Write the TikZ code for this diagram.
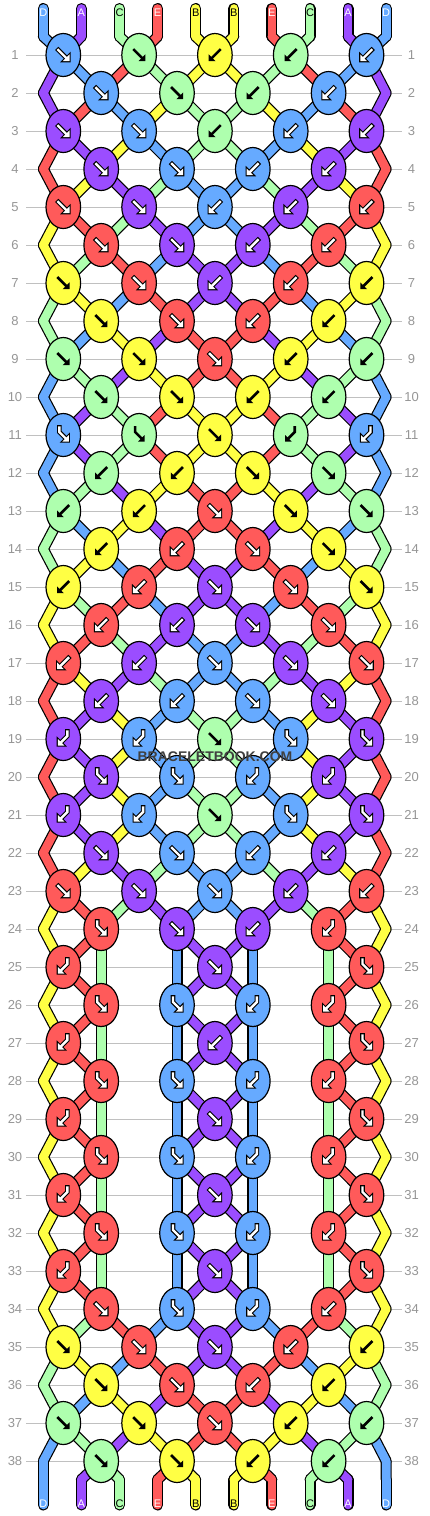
\documentclass[tikz,border=0pt]{standalone}
\usepackage{fontspec}
\setmainfont{Liberation Sans}
\usepackage{xstring}
\usetikzlibrary{shapes.geometric}

% strand colours
\definecolor{strA}{RGB}{155,77,255}
\definecolor{strB}{RGB}{255,255,68}
\definecolor{strC}{RGB}{174,255,174}
\definecolor{strD}{RGB}{102,170,255}
\definecolor{strE}{RGB}{255,90,90}
\definecolor{rowgray}{RGB}{150,150,150}
\definecolor{linegray}{RGB}{192,192,192}

% strand order under each row (row 0 = the loose ends on top)
\newcommand\setrow[2]{\expandafter\def\csname sqrow#1\endcsname{#2}}
% knots of each row: f forward, b backward, F forward-backward, B backward-forward, 0 none
\newcommand\setknots[2]{\expandafter\def\csname knrow#1\endcsname{#2}}

\setrow{0}{DACEBBECAD}
\setrow{1}{ADECBBCEDA}  \setknots{1}{ffbbb}
\setrow{2}{AEDBCCBDEA}  \setknots{2}{ffbb}
\setrow{3}{EABDCCDBAE}  \setknots{3}{ffbbb}
\setrow{4}{EBACDDCABE}  \setknots{4}{ffbb}
\setrow{5}{BECADDACEB}  \setknots{5}{ffbbb}
\setrow{6}{BCEDAADECB}  \setknots{6}{ffbb}
\setrow{7}{CBDEAAEDBC}  \setknots{7}{ffbbb}
\setrow{8}{CDBAEEABDC}  \setknots{8}{ffbb}
\setrow{9}{DCABEEBACD}  \setknots{9}{fffbb}
\setrow{10}{DACEBBECAD} \setknots{10}{ffbb}
\setrow{11}{DACEBBECAD} \setknots{11}{FFfBB}
\setrow{12}{DCABEEBACD} \setknots{12}{bbff}
\setrow{13}{CDBAEEABDC} \setknots{13}{bbfff}
\setrow{14}{CBDEAAEDBC} \setknots{14}{bbff}
\setrow{15}{BCEDAADECB} \setknots{15}{bbfff}
\setrow{16}{BECADDACEB} \setknots{16}{bbff}
\setrow{17}{EBACDDCABE} \setknots{17}{bbfff}
\setrow{18}{EABDCCDBAE} \setknots{18}{bbff}
\setrow{19}{EABDCCDBAE} \setknots{19}{BBfFF}
\setrow{20}{EABDCCDBAE} \setknots{20}{FFBB}
\setrow{21}{EABDCCDBAE} \setknots{21}{BBfFF}
\setrow{22}{EBACDDCABE} \setknots{22}{ffbb}
\setrow{23}{BECADDACEB} \setknots{23}{fffbb}
\setrow{24}{BECDAADCEB} \setknots{24}{FfbB}
\setrow{25}{BECDAADCEB} \setknots{25}{B0f0F}
\setrow{26}{BECDAADCEB} \setknots{26}{FFBB}
\setrow{27}{BECDAADCEB} \setknots{27}{B0b0F}
\setrow{28}{BECDAADCEB} \setknots{28}{FFBB}
\setrow{29}{BECDAADCEB} \setknots{29}{B0f0F}
\setrow{30}{BECDAADCEB} \setknots{30}{FFBB}
\setrow{31}{BECDAADCEB} \setknots{31}{B0f0F}
\setrow{32}{BECDAADCEB} \setknots{32}{FFBB}
\setrow{33}{BECDAADCEB} \setknots{33}{B0f0F}
\setrow{34}{BCEDAADECB} \setknots{34}{fFBb}
\setrow{35}{CBDEAAEDBC} \setknots{35}{fffbb}
\setrow{36}{CDBAEEABDC} \setknots{36}{ffbb}
\setrow{37}{DCABEEBACD} \setknots{37}{fffbb}
\setrow{38}{DACEBBECAD} \setknots{38}{ffbb}

% arrow inside a knot: shaft, head, dark knot (1) or light knot (0)
\newcommand\knotarrow[3]{%
  \ifnum#3=1\relax
    \draw[black, line width=4.6pt, line cap=rect, line join=miter] #1;
    \filldraw[black, line width=2.2pt, line join=miter] #2;
    \draw[white, line width=2.4pt, line cap=rect, line join=miter] #1;
    \fill[white] #2;
  \else
    \draw[black, line width=2.6pt, line cap=rect, line join=miter] #1;
    \fill[black] #2;
  \fi}
\newcommand\arrowf[1]{\knotarrow{(-5,-5) -- (2.5,2.5)}{(6.2,6.2) -- (6.2,-0.6) -- (-0.6,6.2) -- cycle}{#1}}
\newcommand\arrowb[1]{\knotarrow{(5,-5) -- (-2.5,2.5)}{(-6.2,6.2) -- (-6.2,-0.6) -- (0.6,6.2) -- cycle}{#1}}
\newcommand\arrowF[1]{\knotarrow{(-4,-7.5) -- (-4,-3) -- (2.2,3.2)}{(5.5,6.5) -- (5.5,0) -- (-1,6.5) -- cycle}{#1}}
\newcommand\arrowB[1]{\knotarrow{(4,-7.5) -- (4,-3) -- (-2.2,3.2)}{(-5.5,6.5) -- (-5.5,0) -- (1,6.5) -- cycle}{#1}}

% one pass over all strand pieces (outline pass or colour pass)
\newcommand\strandpass[1]{%
  \foreach \pos in {0,...,9}{%
    \pgfmathtruncatemacro\idx{\pos+1}%
    \StrChar{\csname sqrow0\endcsname}{\idx}[\sc]%
    \draw[#1] (t\pos) -- (p0-\pos);
    \StrChar{\csname sqrow38\endcsname}{\idx}[\sc]%
    \draw[#1] (p39-\pos) -- (b\pos);
    \foreach \row in {0,...,38}{%
      \pgfmathtruncatemacro\nxt{\row+1}%
      \StrChar{\csname sqrow\row\endcsname}{\idx}[\sc]%
      \draw[#1] (p\row-\pos) -- (p\nxt-\pos);
    }
  }}

\tikzset{
  rowline/.style={draw=linegray, line width=1pt},
  rownum/.style={text=rowgray, font=\fontsize{13}{13}\selectfont, inner sep=0pt},
  strandedge/.style={draw=black, line width=11pt, line cap=round},
  strandfill/.style={draw=str\sc, line width=8.6pt, line cap=round},
  knot/.style={ellipse, draw=black, line width=1.2pt, minimum width=34.6pt,
    minimum height=43pt, inner sep=0pt},
  endlabel/.style={font=\fontsize{11}{11}\selectfont, inner sep=0pt},
}

\begin{document}
\begin{tikzpicture}[x=1pt, y=-1pt]
  \fill[white] (0,0) rectangle (430,1516);
  \useasboundingbox (0,0) rectangle (430,1516);

  % --- row guides and numbers ---
  \foreach \row in {1,...,38}{
    \pgfmathsetmacro\py{17+38*\row}
    \coordinate (gl\row) at (26,\py);
    \coordinate (gr\row) at (402,\py);
    \draw[rowline] (gl\row) -- (gr\row);
    \node[rownum] (nl\row) at (15,\py) {\row};
    \node[rownum] (nr\row) at (411.5,\py) {\row};
  }

  % --- where every strand sits in every row ---
  \foreach \row in {1,...,38}{
    \foreach \pos in {0,...,9}{
      \pgfmathtruncatemacro\odd{mod(\row,2)}
      \pgfmathtruncatemacro\hole{(\odd==1)*(\row>24)*(\row<34)*((\pos==2)+(\pos==3)+(\pos==6)+(\pos==7))}
      \pgfmathtruncatemacro\edge{(\odd==0)*((\pos==0)+(\pos==9))}
      \pgfmathtruncatemacro\col{\odd*(1-\hole)==1 ? \pos-mod(\pos,2) : \pos-1+mod(\pos,2)}
      \pgfmathsetmacro\px{\edge*(43.3+342.9*(\pos==9))+(1-\edge)*(63.3+37.9*\col)}
      \pgfmathsetmacro\py{17+38*\row}
      \coordinate (p\row-\pos) at (\px,\py);
    }
  }
  % loose ends
  \foreach \pos in {0,...,9}{
    \pgfmathsetmacro\px{43.3+38.1*\pos}
    \coordinate (t\pos) at (\px,8.5);
    \coordinate (p0-\pos) at (\px,36.5);
    \coordinate (p39-\pos) at (\px,1479.5);
    \coordinate (b\pos) at (\px,1505);
  }

  % --- strands: black outline first, colour on top ---
  \strandpass{strandedge}
  \strandpass{strandfill}

  % --- knots ---
  \foreach \row in {1,...,38}{
    \pgfmathtruncatemacro\odd{mod(\row,2)}
    \pgfmathtruncatemacro\prev{\row-1}
    \pgfmathtruncatemacro\nk{4+\odd}
    \foreach \i in {1,...,\nk}{
      \StrChar{\csname knrow\row\endcsname}{\i}[\kt]
      \IfStrEq{\kt}{0}{}{%
        \pgfmathtruncatemacro\kn{2*\i-1-\odd}%
        \IfSubStr{fF}{\kt}{\pgfmathtruncatemacro\ci{\kn+1}}{\pgfmathtruncatemacro\ci{\kn+2}}%
        \StrChar{\csname sqrow\prev\endcsname}{\ci}[\kc]%
        \IfSubStr{ADE}{\kc}{\def\dk{1}}{\def\dk{0}}%
        \node[knot, fill=str\kc] (k\row-\kn) at (p\row-\kn) {};
        \begin{scope}[shift={(k\row-\kn.center)}]
          \csname arrow\kt\endcsname{\dk}
        \end{scope}
      }
    }
  }

  % --- letters on the loose ends ---
  \foreach \pos in {0,...,9}{
    \pgfmathtruncatemacro\idx{\pos+1}
    \pgfmathsetmacro\px{43.3+38.1*\pos}
    \StrChar{\csname sqrow0\endcsname}{\idx}[\sc]
    \IfSubStr{ADE}{\sc}{\def\lc{white}}{\def\lc{black}}
    \node[endlabel, text=\lc] (lt\pos) at (\px,13) {\sc};
    \node[endlabel, text=\lc] (lb\pos) at (\px,1504) {\sc};
  }

  \node[font=\bfseries\fontsize{14}{14}\selectfont, text=black!75] (mark) at (215,757) {BRACELETBOOK.COM};
\end{tikzpicture}
\end{document}
